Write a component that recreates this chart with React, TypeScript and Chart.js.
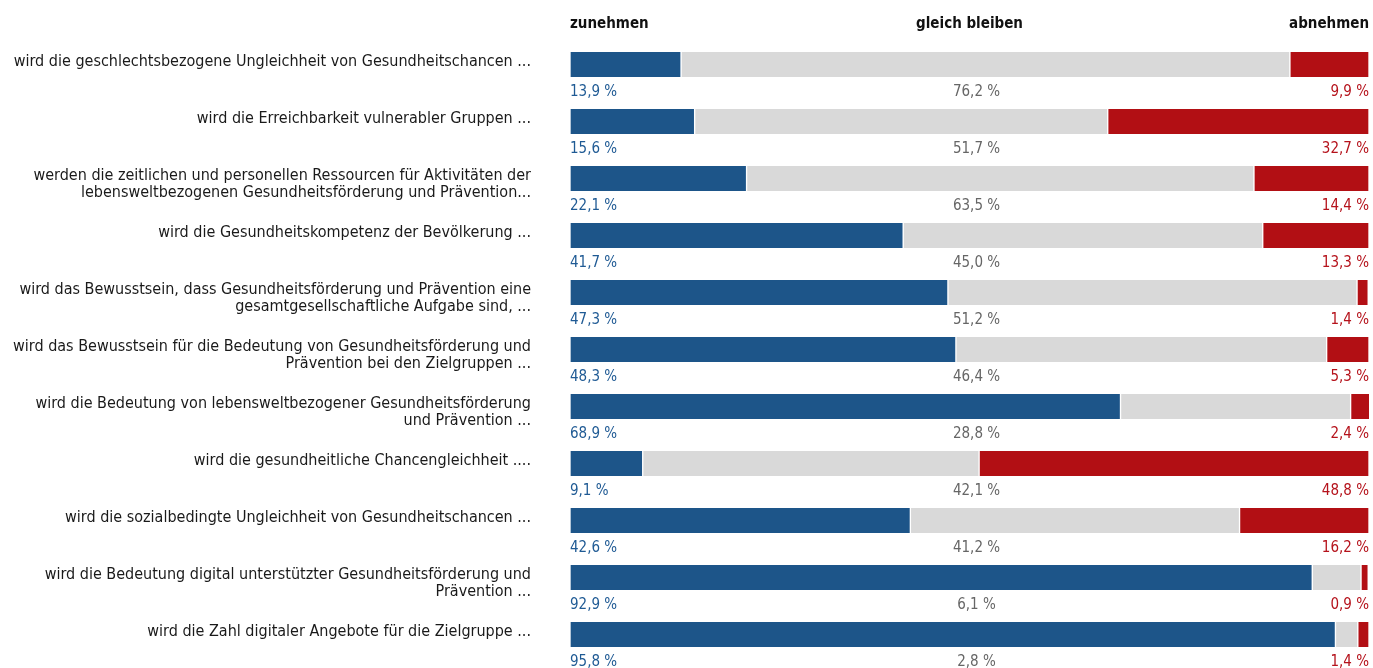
import React, { useEffect, useRef } from "react";
import { Chart, registerables } from "chart.js";

Chart.register(...registerables);

const categories: string[][] = [
  ["wird die geschlechtsbezogene Ungleichheit von Gesundheitschancen ..."],
  ["wird die Erreichbarkeit vulnerabler Gruppen ..."],
  ["werden die zeitlichen und personellen Ressourcen für Aktivitäten der", "lebensweltbezogenen Gesundheitsförderung und Prävention..."],
  ["wird die Gesundheitskompetenz der Bevölkerung ..."],
  ["wird das Bewusstsein, dass Gesundheitsförderung und Prävention eine", "gesamtgesellschaftliche Aufgabe sind, ..."],
  ["wird das Bewusstsein für die Bedeutung von Gesundheitsförderung und", "Prävention bei den Zielgruppen ..."],
  ["wird die Bedeutung von lebensweltbezogener Gesundheitsförderung", "und Prävention ..."],
  ["wird die gesundheitliche Chancengleichheit ...."],
  ["wird die sozialbedingte Ungleichheit von Gesundheitschancen ..."],
  ["wird die Bedeutung digital unterstützter Gesundheitsförderung und", "Prävention ..."],
  ["wird die Zahl digitaler Angebote für die Zielgruppe ..."],
];

const zunehmen = [13.9, 15.6, 22.1, 41.7, 47.3, 48.3, 68.9, 9.1, 42.6, 92.9, 95.8];
const gleichBleiben = [76.2, 51.7, 63.5, 45.0, 51.2, 46.4, 28.8, 42.1, 41.2, 6.1, 2.8];
const abnehmen = [9.9, 32.7, 14.4, 13.3, 1.4, 5.3, 2.4, 48.8, 16.2, 0.9, 1.4];

const seriesNames = ["zunehmen", "gleich bleiben", "abnehmen"];

const BLUE = "#1d5589";
const GRAY = "#d9d9d9";
const RED = "#b20f14";
const BLUE_TXT = "#1f5a94";
const GRAY_TXT = "#666666";
const RED_TXT = "#b5121b";
const FONT = "'Liberation Sans Narrow', 'DejaVu Sans Condensed', sans-serif";

const fmt = (v: number) => v.toFixed(1).replace(".", ",") + " %";

const overlayPlugin = {
  id: "overlay",
  afterDatasetsDraw(chart: any) {
    const ctx = chart.ctx;
    const area = chart.chartArea;
    const y = chart.scales.y;
    const meta0 = chart.getDatasetMeta(0);
    ctx.save();
    // headers
    ctx.font = `bold 15px ${FONT}`;
    ctx.fillStyle = "#111111";
    ctx.textBaseline = "middle";
    ctx.textAlign = "left";
    ctx.fillText(seriesNames[0], area.left, 24);
    ctx.textAlign = "center";
    ctx.fillText(seriesNames[1], (area.left + area.right) / 2, 24);
    ctx.textAlign = "right";
    ctx.fillText(seriesNames[2], area.right, 24);

    categories.forEach((lines, i) => {
      const cy = y.getPixelForValue(i);
      const bar = meta0.data[i];
      const h = bar ? bar.height : 25;
      const top = cy - h / 2;
      // category labels
      ctx.font = `16px ${FONT}`;
      ctx.fillStyle = "#1a1a1a";
      ctx.textAlign = "right";
      ctx.textBaseline = "middle";
      lines.forEach((ln, k) => {
        ctx.fillText(ln, area.left - 39, top + 9.5 + k * 17);
      });
      // value labels
      const vy = cy + h / 2 + 15;
      ctx.font = `15px ${FONT}`;
      ctx.textAlign = "left";
      ctx.fillStyle = BLUE_TXT;
      ctx.fillText(fmt(zunehmen[i]), area.left, vy);
      ctx.textAlign = "center";
      ctx.fillStyle = GRAY_TXT;
      ctx.fillText(fmt(gleichBleiben[i]), (area.left + area.right) / 2 + 7, vy);
      ctx.textAlign = "right";
      ctx.fillStyle = RED_TXT;
      ctx.fillText(fmt(abnehmen[i]), area.right, vy);
    });
    ctx.restore();
  },
};

export default function App() {
  const ref = useRef<HTMLCanvasElement | null>(null);
  useEffect(() => {
    document.body.style.margin = "0";
    if (!ref.current) return;
    const chart = new Chart(ref.current, {
      type: "bar",
      data: {
        labels: categories.map((c) => c.join(" ")),
        datasets: [
          { label: seriesNames[0], data: zunehmen, backgroundColor: BLUE },
          { label: seriesNames[1], data: gleichBleiben, backgroundColor: GRAY },
          { label: seriesNames[2], data: abnehmen, backgroundColor: RED },
        ].map((d) => ({
          ...d,
          borderColor: "#ffffff",
          borderWidth: { left: 1, right: 1, top: 0, bottom: 0 },
          borderSkipped: false,
          barThickness: 25,
        })) as any,
      },
      options: {
        indexAxis: "y",
        animation: false,
        responsive: true,
        maintainAspectRatio: false,
        layout: { padding: { left: 570, right: 4, top: 36, bottom: 5 } },
        plugins: { legend: { display: false }, tooltip: { enabled: false } },
        scales: {
          x: { stacked: true, min: 0, max: 100, display: false },
          y: { stacked: true, display: false },
        },
      },
      plugins: [overlayPlugin],
    });
    return () => chart.destroy();
  }, []);
  return (
    <div style={{ position: "fixed", left: 0, top: 0, width: 1373, height: 668, background: "#fff" }}>
      <canvas ref={ref} />
    </div>
  );
}
